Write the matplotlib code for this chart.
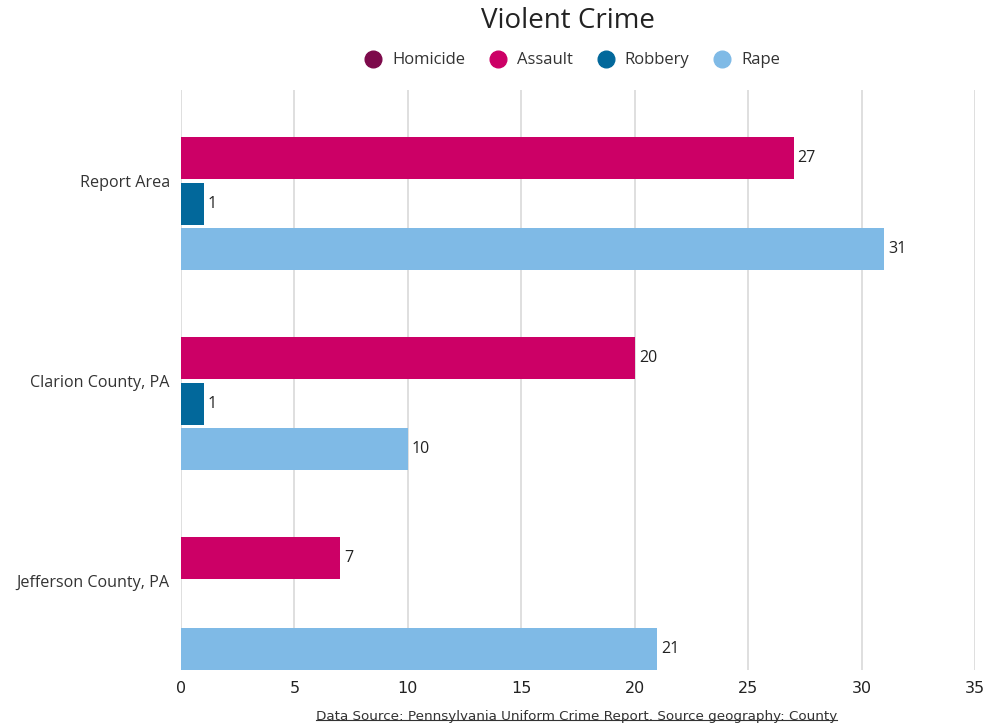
import matplotlib.pyplot as plt
from matplotlib.lines import Line2D
import numpy as np

# data
areas = ["Report Area", "Clarion County, PA", "Jefferson County, PA"]
series = ["Homicide", "Assault", "Robbery", "Rape"]
homicide = [0, 0, 0]
assault = [27, 20, 7]
robbery = [1, 1, 0]
rape = [31, 10, 21]
colors = ["#7D0A4B", "#CC0066", "#02689B", "#7FBAE6"]
xticks = [0, 5, 10, 15, 20, 25, 30, 35]

plt.rcParams['font.family'] = ['Open Sans', 'DejaVu Sans']

fig = plt.figure(figsize=(9.86, 7.27), dpi=100)
ax = fig.add_axes([181 / 986, 57 / 727, 794 / 986, 580 / 727])

values = [homicide, assault, robbery, rape]
slot = 0.2275
height = 0.21
y = np.arange(len(areas))
for i, (name, vals) in enumerate(zip(series, values)):
    pos = y + (i - 1.5) * slot
    ax.barh(pos, vals, height=height, color=colors[i], label=name, zorder=3)
    for p, v in zip(pos, vals):
        if v > 0:
            ax.text(v + 0.18, p, str(v), va="center", ha="left", fontsize=11.5, color="#222222")

ax.set_ylim(2.446, -0.454)
ax.set_xlim(0, 35)
ax.set_yticks(y)
ax.set_yticklabels(areas, fontsize=11.6, color="#333333")
ax.set_xticks(xticks)
ax.set_xticklabels([str(t) for t in xticks], fontsize=11.5, color="#222222",
                   family=['DejaVu Sans'])
ax.tick_params(length=0, pad=8)
ax.tick_params(axis="y", pad=8)
ax.grid(axis="x", color="#d9d9d9", linewidth=1.2, zorder=0)
for s in ax.spines.values():
    s.set_visible(False)

fig.text(0.5765, 0.99, "Violent Crime", ha="center", va="top", fontsize=20, color="#222222")

handles = [Line2D([], [], marker="o", linestyle="", markersize=12, color=c) for c in colors]
fig.legend(handles, series, loc="center", bbox_to_anchor=(0.5765, 0.917), ncol=4, frameon=False,
           fontsize=12, handletextpad=0.15, columnspacing=0.95, labelcolor="#333333")

foot = fig.text(0.585, 0.006, "Data Source: Pennsylvania Uniform Crime Report. Source geography: County",
                ha="center", va="bottom", fontsize=9.7, color="#333333",
                family=['DejaVu Sans'])
fig.canvas.draw()
bb = foot.get_window_extent().transformed(fig.transFigure.inverted())
fig.add_artist(Line2D([bb.x0, bb.x1], [bb.y0 + 0.003, bb.y0 + 0.003], color="#333333",
                      linewidth=0.8, transform=fig.transFigure))

fig.savefig("out.png", dpi=100)
